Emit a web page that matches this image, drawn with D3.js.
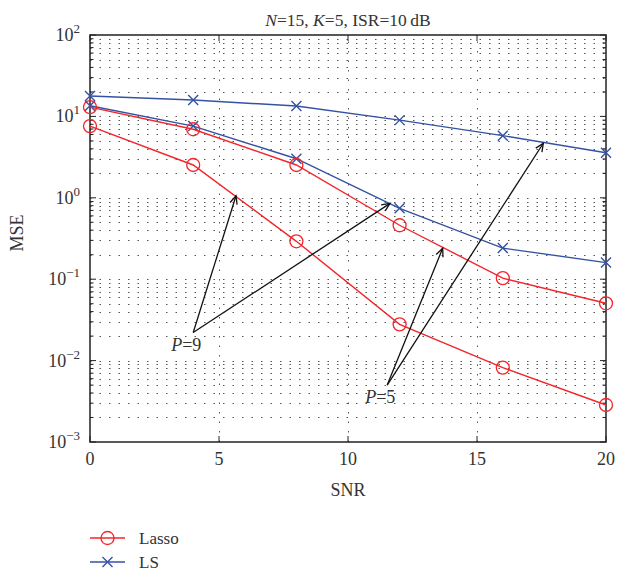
<!DOCTYPE html>
<html>
<head>
<meta charset="utf-8">
<script src="https://cdn.jsdelivr.net/npm/d3@7"></script>
<style>
  html, body { margin: 0; padding: 0; background: #fff; }
  svg { display: block; }
  text { font-family: "Liberation Serif", "DejaVu Serif", serif; fill: #333; }
</style>
</head>
<body>
<svg id="chart" width="617" height="571"></svg>
<script>
// ---- data ----
const snr = [0, 4, 8, 12, 16, 20];
const lassoP5 = [13, 6.95, 2.53, 0.46, 0.103, 0.0506];
const lassoP9 = [7.6, 2.53, 0.292, 0.0279, 0.0082, 0.00285];
const lsP5 = [17.8, 15.9, 13.4, 9.0, 5.8, 3.58];
const lsP9 = [13.5, 7.6, 3.02, 0.743, 0.241, 0.16];
const xTicks = [0, 5, 10, 15, 20];
const yDecades = [-3, -2, -1, 0, 1, 2];
// annotation arrows: label position, tail, heads (data coords)
const annP9 = { label: "9", at: [4.0, 0.0221], heads: [[5.66, 1.06], [11.63, 0.855]] };
const annP5 = { label: "5", at: [11.52, 0.00501], heads: [[13.67, 0.24], [17.57, 4.68]] };
const legendItems = ["Lasso", "LS"];

// ---- layout ----
const svg = d3.select("#chart");
const x = d3.scaleLinear().domain([0, 20]).range([90, 606]);
const y = d3.scaleLog().domain([1e-3, 1e2]).range([442, 35]);
const red = "#f2262b", blue = "#3452a4";

// grid
const minorVals = [];
for (let e = -3; e < 2; e++) for (let m = 1; m <= 9; m++) minorVals.push(m * Math.pow(10, e));
minorVals.push(100);
const grid = svg.append("g").attr("stroke", "#555").attr("stroke-width", 1)
  .attr("stroke-dasharray", "1.5,8").attr("fill", "none");
grid.selectAll("line.h").data(minorVals.filter(v => v > 1e-3 && v < 100)).join("line")
  .attr("x1", x(0)).attr("x2", x(20))
  .attr("y1", d => Math.round(y(d)) + 0.5).attr("y2", d => Math.round(y(d)) + 0.5);
grid.selectAll("line.v").data(xTicks.filter(d => d > 0 && d < 20)).join("line")
  .attr("x1", d => Math.round(x(d)) + 0.5).attr("x2", d => Math.round(x(d)) + 0.5)
  .attr("y1", y(1e-3)).attr("y2", y(100));

// axes box
const axis = svg.append("g").attr("stroke", "#222").attr("fill", "none");
axis.append("rect").attr("x", x(0)).attr("y", y(100)).attr("width", x(20) - x(0))
  .attr("height", y(1e-3) - y(100)).attr("stroke-width", 1.5);
// x ticks top & bottom
xTicks.forEach(t => {
  axis.append("line").attr("x1", x(t)).attr("x2", x(t)).attr("y1", y(1e-3)).attr("y2", y(1e-3) - 6);
  axis.append("line").attr("x1", x(t)).attr("x2", x(t)).attr("y1", y(100)).attr("y2", y(100) + 6);
});
// y ticks left & right (major + minor)
minorVals.forEach(v => {
  const major = Math.abs(Math.log10(v) - Math.round(Math.log10(v))) < 1e-9;
  const len = major ? 6 : 3.5;
  axis.append("line").attr("x1", x(0)).attr("x2", x(0) + len).attr("y1", y(v)).attr("y2", y(v));
  axis.append("line").attr("x1", x(20)).attr("x2", x(20) - len).attr("y1", y(v)).attr("y2", y(v));
});

// tick labels
svg.append("g").selectAll("text").data(xTicks).join("text")
  .attr("x", d => x(d)).attr("y", 465).attr("text-anchor", "middle")
  .attr("font-size", 18).text(d => d);
const yl = svg.append("g").selectAll("text").data(yDecades).join("text")
  .attr("x", 80).attr("y", d => y(Math.pow(10, d)) + 6).attr("text-anchor", "end")
  .attr("font-size", 18);
yl.append("tspan").text("10");
yl.append("tspan").attr("dy", -8).attr("font-size", 13).text(d => d < 0 ? "\u2212" + (-d) : d);

// axis titles
svg.append("text").attr("x", 348).attr("y", 496).attr("text-anchor", "middle").attr("font-size", 18).text("SNR");
svg.append("text").attr("transform", "translate(23,233) rotate(-90)").attr("text-anchor", "middle")
  .attr("font-size", 18).text("MSE");
const title = svg.append("text").attr("x", 348).attr("y", 26).attr("text-anchor", "middle").attr("font-size", 17.5);
title.append("tspan").attr("font-style", "italic").text("N");
title.append("tspan").text("=15, ");
title.append("tspan").attr("font-style", "italic").text("K");
title.append("tspan").text("=5, ISR=10\u2009dB");

// series
const line = d3.line().x((d, i) => x(snr[i])).y(d => y(d));
const series = [
  { vals: lsP5, color: blue, marker: "x" },
  { vals: lsP9, color: blue, marker: "x" },
  { vals: lassoP5, color: red, marker: "o" },
  { vals: lassoP9, color: red, marker: "o" }
];
function drawMarker(g, type, cx, cy, color) {
  if (type === "o") {
    g.append("circle").attr("cx", cx).attr("cy", cy).attr("r", 6.5)
      .attr("fill", "none").attr("stroke", color).attr("stroke-width", 1.3);
  } else {
    const s = 5;
    g.append("path").attr("d", `M${cx - s},${cy - s}L${cx + s},${cy + s}M${cx - s},${cy + s}L${cx + s},${cy - s}`)
      .attr("stroke", color).attr("stroke-width", 1.4).attr("fill", "none");
  }
}
series.forEach(s => {
  const g = svg.append("g");
  g.append("path").attr("d", line(s.vals)).attr("fill", "none").attr("stroke", s.color).attr("stroke-width", 1.4);
  s.vals.forEach((v, i) => drawMarker(g, s.marker, x(snr[i]), y(v), s.color));
});

// annotations
function annotate(a) {
  const g = svg.append("g").attr("stroke", "#111").attr("stroke-width", 1.3).attr("fill", "none");
  const tx = x(a.at[0]), ty = y(a.at[1]);
  a.heads.forEach(h => {
    const hx = x(h[0]), hy = y(h[1]);
    g.append("line").attr("x1", tx).attr("y1", ty).attr("x2", hx).attr("y2", hy);
    const ang = Math.atan2(ty - hy, tx - hx);
    const L = 9, w = 0.42;
    g.append("path").attr("d",
      `M${hx + L * Math.cos(ang + w)},${hy + L * Math.sin(ang + w)}L${hx},${hy}L${hx + L * Math.cos(ang - w)},${hy + L * Math.sin(ang - w)}`);
  });
  const t = svg.append("text").attr("x", tx - 22).attr("y", ty + 18).attr("font-size", 18);
  t.append("tspan").attr("font-style", "italic").text("P");
  t.append("tspan").text("=" + a.label);
}
annotate(annP9);
annotate(annP5);

// legend
const legY = [538, 562];
legendItems.forEach((name, i) => {
  const g = svg.append("g");
  const color = i === 0 ? red : blue;
  g.append("line").attr("x1", 90).attr("x2", 125).attr("y1", legY[i]).attr("y2", legY[i])
    .attr("stroke", color).attr("stroke-width", 1.4);
  drawMarker(g, i === 0 ? "o" : "x", 107.5, legY[i], color);
  g.append("text").attr("x", 139).attr("y", legY[i] + 6).attr("font-size", 17).text(name);
});
</script>
</body>
</html>
